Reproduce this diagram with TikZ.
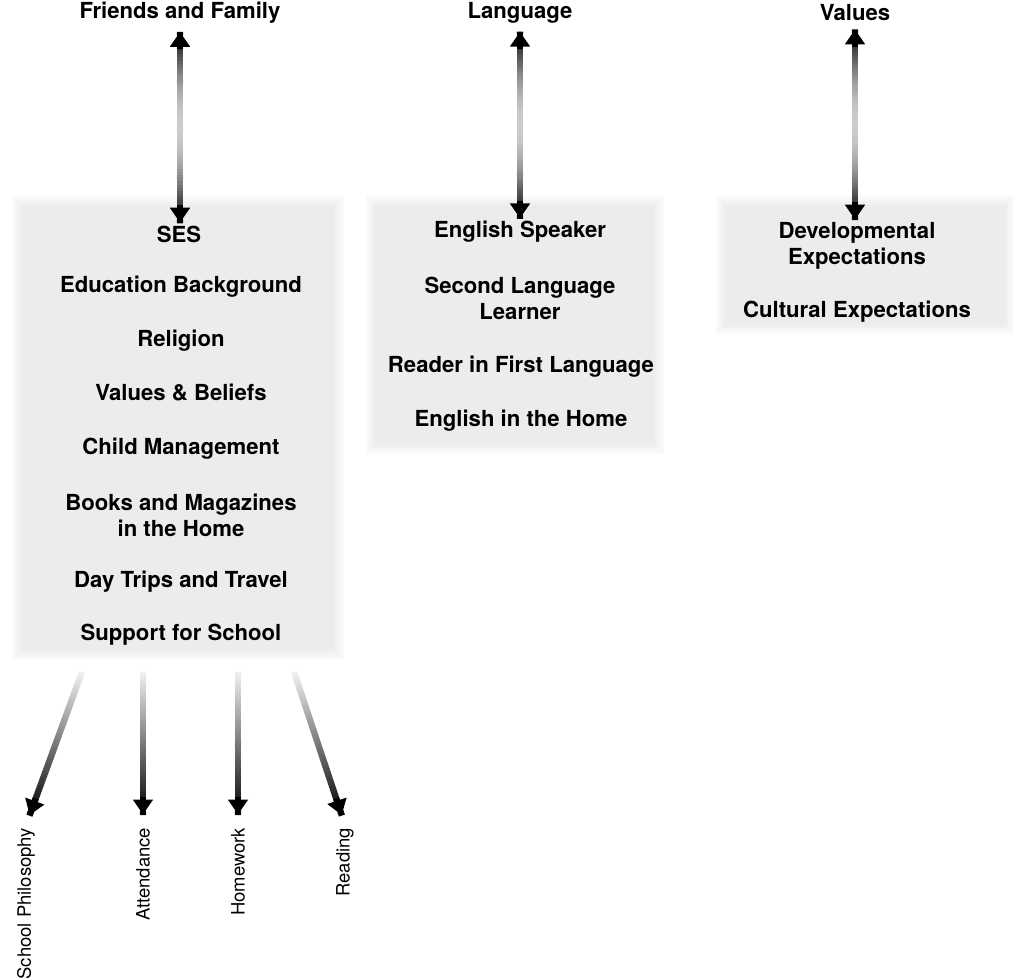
\documentclass[tikz,border=0pt]{standalone}
\usepackage{fontspec}
\setmainfont{TeX Gyre Heros}
\usepackage{tikz}
\usetikzlibrary{arrows.meta,calc,positioning}

\definecolor{boxgray}{HTML}{ECECEC}

\tikzset{
  item/.style={font=\fontsize{12.6}{14.7}\selectfont\bfseries, align=center, inner sep=1.5pt},
  side/.style={font=\fontsize{10.5}{12}\selectfont, rotate=90, anchor=east, inner sep=1.5pt},
  shaft/.style={line width=3.6pt},
  tip/.style={line width=3.6pt, -{Triangle[width=11pt,length=8.5pt]}},
}

% soft grey panel behind a column
\newcommand{\softbox}[4]{%
  \foreach \g/\d in {30/9,55/6,80/3,100/0}
    \fill[boxgray!\g] (#1-\d,#2-\d) rectangle (#3+\d,#4+\d);
}

\begin{document}
\begin{tikzpicture}[x=0.02cm, y=-0.02cm]
    \useasboundingbox (0,0) rectangle (1018,979);

    % panels
    \softbox{22}{205}{335}{650}
    \softbox{375}{205}{655}{445}
    \softbox{725}{205}{1005}{325}

    % headings
    \node [item] (fam)  at (180,13) {Friends and Family};
    \node [item] (lang) at (520,13) {Language};
    \node [item] (val)  at (855,13) {Values};

    % family column
    \node [item] (ses) at (179,234) {SES};
    \node [item] (edu) at (181,287) {Education Background};
    \node [item] (rel) at (181,341) {Religion};
    \node [item] (vab) at (181,393) {Values \& Beliefs};
    \node [item] (chm) at (181,449) {Child Management};
    \node [item] (bmh) at (181,515) {Books and Magazines\\in the Home};
    \node [item] (dtt) at (181,582) {Day Trips and Travel};
    \node [item] (sfs) at (181,635) {Support for School};

    % language column
    \node [item] (engsp) at (520,232) {English Speaker};
    \node [item] (sll)   at (520,298) {Second Language\\Learner};
    \node [item] (rfl)   at (521,367) {Reader in First Language};
    \node [item] (eih)   at (521,421) {English in the Home};

    % values column
    \node [item] (devexp)  at (857,246) {Developmental\\Expectations};
    \node [item] (cultexp) at (857,312) {Cultural Expectations};

    % school side
    \coordinate (s1) at (82,672);
    \coordinate (s2) at (143,672);
    \coordinate (s3) at (238,672);
    \coordinate (s4) at (294,672);
    \node [side] (phil) at (26,825)  {School Philosophy};
    \node [side] (att)  at (143,825) {Attendance};
    \node [side] (hw)   at (238,825) {Homework};
    \node [side] (rd)   at (345,825) {Reading};

    % two-way links, dark ends and pale middle
    \foreach \src/\dst in {fam/ses,lang/engsp,val/devexp}{
        \coordinate (a) at ($(\src.south)!3pt!(\src.south |- \dst.north)$);
        \coordinate (b) at (\src.south |- \dst.north);
        \foreach \i in {0,...,59}{
            \pgfmathsetmacro{\t}{\i/60}
            \pgfmathsetmacro{\u}{\t+0.02}
            \pgfmathsetmacro{\lev}{100-80*sin(180*(\t+0.008))}
            \draw [shaft, black!\lev] ($(a)!\t!(b)$) -- ($(a)!\u!(b)$);
        }
        \draw [tip] ($(a)!10pt!(b)$) -- (a);
        \draw [tip] ($(b)!10pt!(a)$) -- (b);
    }

    % links down to the school labels
    \foreach \src/\dst in {s1/phil,s2/att,s3/hw,s4/rd}{
        \coordinate (e) at ($(\dst.east)!6pt!(\src)$);
        \foreach \i in {0,...,49}{
            \pgfmathsetmacro{\t}{\i/50}
            \pgfmathsetmacro{\u}{\t+0.024}
            \pgfmathsetmacro{\lev}{6+94*\t}
            \draw [shaft, black!\lev] ($(\src)!\t!(e)$) -- ($(\src)!\u!(e)$);
        }
        \draw [tip] ($(e)!10pt!(\src)$) -- (e);
    }
\end{tikzpicture}
\end{document}
